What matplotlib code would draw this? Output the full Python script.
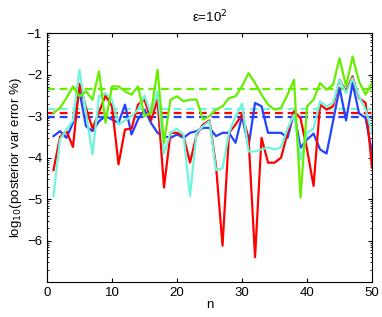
import numpy as np
import matplotlib
matplotlib.use("Agg")
import matplotlib.pyplot as plt
from matplotlib.ticker import FixedLocator

n = np.arange(1, 51)

red = [-4.3, -3.5, -3.36, -3.74, -2.22, -2.8, -3.3, -2.9, -2.5, -2.76,
       -4.16, -3.32, -3.3, -2.72, -2.6, -3.1, -2.6, -4.72, -3.4, -3.4,
       -3.48, -4.12, -3.45, -3.2, -3.1, -4.2, -6.12, -3.4, -3.2, -2.96,
       -3.52, -6.4, -3.52, -4.12, -4.12, -4.0, -3.4, -2.88, -3.05, -3.8,
       -4.68, -2.72, -2.84, -2.76, -2.12, -2.4, -2.04, -2.56, -2.68, -4.24]
blue = [-3.48, -3.36, -3.52, -3.16, -2.4, -3.24, -3.36, -3.12, -3.0, -3.08,
        -3.16, -2.72, -3.44, -3.08, -2.84, -3.16, -3.4, -3.48, -3.52, -3.44,
        -3.52, -3.4, -3.36, -3.28, -3.28, -3.48, -3.4, -3.4, -3.64, -3.0,
        -3.72, -2.68, -2.76, -3.4, -3.4, -3.4, -3.52, -2.92, -3.76, -3.56,
        -3.42, -3.8, -3.9, -3.12, -2.32, -3.1, -2.2, -2.93, -3.04, -3.9]
cyan = [-4.92, -3.56, -3.32, -3.1, -1.88, -2.92, -3.92, -2.52, -2.45, -2.6,
        -3.2, -3.1, -3.0, -2.84, -2.5, -2.95, -2.4, -3.9, -3.4, -3.3,
        -3.45, -4.92, -3.4, -3.24, -3.12, -4.3, -4.25, -3.4, -3.0, -2.7,
        -3.85, -3.85, -3.8, -3.75, -3.8, -3.75, -3.3, -2.96, -4.05, -3.4,
        -3.3, -2.64, -2.76, -2.68, -2.12, -2.44, -2.08, -2.52, -2.84, -3.4]
green = [-2.92, -2.8, -2.56, -2.28, -2.52, -2.4, -2.6, -1.92, -3.16, -2.28,
         -2.28, -2.4, -2.48, -2.28, -3.0, -2.92, -1.88, -3.64, -2.6, -2.52,
         -2.64, -2.6, -2.6, -3.08, -3.0, -2.84, -2.76, -2.56, -2.52, -2.28,
         -1.96, -2.2, -2.48, -2.72, -2.84, -2.8, -2.48, -2.12, -4.96, -2.76,
         -2.6, -2.2, -2.36, -2.24, -1.6, -2.28, -1.56, -2.16, -2.48, -2.2]

# overall levels (dashed)
mean_levels = {"green": -2.34, "cyan": -2.82, "red": -2.92, "blue": -3.01}

colors = {"red": "#ff0000", "blue": "#2244ff", "cyan": "#6ff5dc", "green": "#66ee00"}

plt.rcParams["font.family"] = ["Liberation Sans", "DejaVu Sans"]

fig = plt.figure(figsize=(3.82, 3.17), dpi=100)
ax = fig.add_axes([0.123, 0.110, 0.851, 0.785])

for name in ["green", "cyan", "red", "blue"]:
    ax.axhline(mean_levels[name], color=colors[name], lw=1.6, ls=(0, (3.5, 2.2)))

for name, vals in [("blue", blue), ("red", red), ("cyan", cyan), ("green", green)]:
    ax.plot(n, vals, color=colors[name], lw=1.6)

ax.set_xlim(0, 50)
ax.set_ylim(-7, -1)
ax.set_xticks([0, 10, 20, 30, 40, 50])
ax.set_yticks([-6, -5, -4, -3, -2, -1])
minor = [k + np.log10(m) for k in range(-7, -1) for m in range(2, 10)]
ax.yaxis.set_minor_locator(FixedLocator(minor))
ax.tick_params(direction="in", top=True, right=True, labelsize=9.5, length=3)
ax.tick_params(which="minor", direction="in", right=True, length=1.5)

ax.set_xlabel("n", fontsize=9.5, labelpad=0)
ax.set_ylabel("log$_{10}$(posterior var error %)", fontsize=9.5, labelpad=2)
ax.set_title("ε=10$^{2}$", fontsize=9.5, pad=8)

fig.savefig("out.png", dpi=100)
